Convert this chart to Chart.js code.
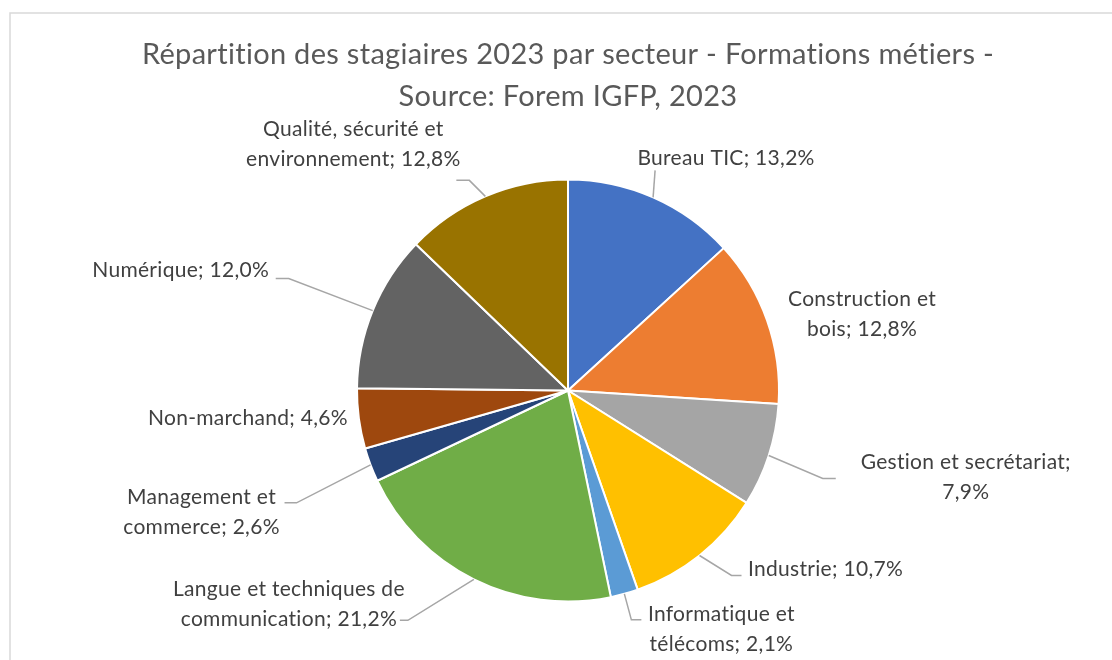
<!DOCTYPE html>
<html lang="fr">
<head>
<meta charset="utf-8">
<title>Répartition des stagiaires 2023 par secteur</title>
<script src="https://cdn.jsdelivr.net/npm/chart.js@4.4.1/dist/chart.umd.min.js"></script>
<style>
  html, body { margin: 0; padding: 0; background: #fff; }
  .chart-box { position: relative; width: 1112px; height: 660px; }
</style>
</head>
<body>
<div class="chart-box">
  <canvas id="pieChart"></canvas>
</div>
<script>
// Data
const sectors = [
    'Bureau TIC',
    'Construction et bois',
    'Gestion et secrétariat',
    'Industrie',
    'Informatique et télécoms',
    'Langue et techniques de communication',
    'Management et commerce',
    'Non-marchand',
    'Numérique',
    'Qualité, sécurité et environnement'
];
const shares = [13.2, 12.8, 7.9, 10.7, 2.1, 21.2, 2.6, 4.6, 12.0, 12.8];
const sliceColors = ['#4472C4', '#ED7D31', '#A5A5A5', '#FFC000', '#5B9BD5',
                     '#70AD47', '#264478', '#9E480E', '#636363', '#997300'];
const titleLines = ['Répartition des stagiaires 2023 par secteur - Formations métiers -',
                    'Source: Forem IGFP, 2023'];

// Label placement, relative to the outer middle point of each slice
// wrap = max line width, leader = end of leader line (elbow = last horizontal piece)
const labelLayout = [
    { dx: 73,   dy: -39, wrap: 400, leader: { dx: 2,   dy: -27, elbow: 0 } },
    { dx: 95,   dy: -6,  wrap: 175, leader: null },
    { dx: 197,  dy: 22,  wrap: 235, leader: { dx: 67,  dy: 23,  elbow: -13 } },
    { dx: 126,  dy: 14,  wrap: 400, leader: { dx: 42,  dy: 20,  elbow: -10 } },
    { dx: 97,   dy: 35,  wrap: 175, leader: { dx: 17,  dy: 26,  elbow: -10 } },
    { dx: -185, dy: 25,  wrap: 255, leader: { dx: -74, dy: 41,  elbow: 8 } },
    { dx: -169, dy: 47,  wrap: 180, leader: { dx: -86, dy: 38,  elbow: 12 } },
    { dx: -111, dy: 0,   wrap: 400, leader: null },
    { dx: -192, dy: -40, wrap: 400, leader: { dx: -97, dy: -32, elbow: 13 } },
    { dx: -132, dy: -52, wrap: 245, leader: { dx: -29, dy: -16, elbow: 13 } }
];

const FONT = 'Lato, "Open Sans", sans-serif';

function formatPct(v) {
    return v.toFixed(1).replace('.', ',') + '%';
}

function wrapText(ctx, text, maxWidth) {
    const words = text.split(' ');
    const lines = [];
    let line = '';
    words.forEach(w => {
        const test = line ? line + ' ' + w : w;
        if (line && ctx.measureText(test).width > maxWidth) {
            lines.push(line);
            line = w;
        } else {
            line = test;
        }
    });
    if (line) lines.push(line);
    return lines;
}

// Outer frame of the chart (also turns off the "ti" ligature of Lato)
const framePlugin = {
    id: 'frame',
    beforeDraw(chart) {
        const c = chart.ctx;
        c.letterSpacing = '0.3px';
        c.save();
        c.strokeStyle = '#D9D9D9';
        c.lineWidth = 1.5;
        c.strokeRect(10, 13, 1200, 700);
        c.restore();
    }
};

// Data labels with leader lines
const pieLabels = {
    id: 'pieLabels',
    afterDatasetsDraw(chart) {
        const c = chart.ctx;
        const meta = chart.getDatasetMeta(0);
        const lineH = 30;
        c.save();
        c.letterSpacing = '0.3px';
        c.font = '21px ' + FONT;
        c.textAlign = 'center';
        c.textBaseline = 'middle';
        meta.data.forEach((arc, i) => {
            const p = arc.getProps(['x', 'y', 'startAngle', 'endAngle', 'outerRadius'], true);
            const mid = (p.startAngle + p.endAngle) / 2;
            const ax = p.x + Math.cos(mid) * p.outerRadius;
            const ay = p.y + Math.sin(mid) * p.outerRadius;
            const lay = labelLayout[i];

            if (lay.leader) {
                const ex = ax + lay.leader.dx;
                const ey = ay + lay.leader.dy;
                c.beginPath();
                c.strokeStyle = '#A6A6A6';
                c.lineWidth = 1.5;
                c.moveTo(ax, ay);
                c.lineTo(ex + lay.leader.elbow, ey);
                c.lineTo(ex, ey);
                c.stroke();
            }

            const text = sectors[i] + '; ' + formatPct(shares[i]);
            const lines = wrapText(c, text, lay.wrap);
            const cx = ax + lay.dx;
            const cy = ay + lay.dy;
            c.fillStyle = '#404040';
            lines.forEach((ln, k) => {
                c.fillText(ln, cx, cy + (k - (lines.length - 1) / 2) * lineH);
            });
        });
        c.restore();
    }
};

const ctx = document.getElementById('pieChart').getContext('2d');
const pieChart = new Chart(ctx, {
    type: 'pie',
    data: {
        labels: sectors,
        datasets: [{
            data: shares,
            backgroundColor: sliceColors,
            borderColor: '#FFFFFF',
            borderWidth: 2
        }]
    },
    options: {
        responsive: true,
        maintainAspectRatio: false,
        animation: false,
        layout: {
            padding: { left: 24, right: 0, top: 0, bottom: 57.5 }
        },
        plugins: {
            legend: { display: false },
            tooltip: { enabled: false },
            title: {
                display: true,
                text: titleLines,
                color: '#595959',
                font: { family: FONT, size: 29, weight: 'normal', lineHeight: 42 / 29 },
                padding: { top: 34, bottom: 60.5 }
            }
        }
    },
    plugins: [framePlugin, pieLabels]
});
</script>
</body>
</html>
